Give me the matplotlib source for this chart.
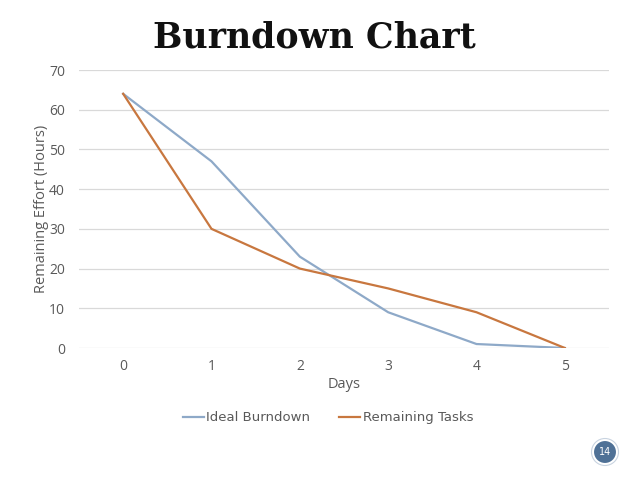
import matplotlib.pyplot as plt
from matplotlib.patches import Circle
from matplotlib.transforms import IdentityTransform

# Datos
dias = [0, 1, 2, 3, 4, 5]
ideal = [64, 47, 23, 9, 1, 0]
restante = [64, 30, 20, 15, 9, 0]
yticks = [0, 10, 20, 30, 40, 50, 60, 70]

gris = '#595959'
azul = '#8EA9C8'
naranja = '#C8773F'

fig = plt.figure(figsize=(6.38, 4.79), dpi=100)
ax = fig.add_axes([79 / 638, 1 - 348 / 479, 530 / 638, 278 / 479])

x = list(range(len(dias)))
ax.plot(x, ideal, color=azul, lw=1.6, label='Ideal Burndown')
ax.plot(x, restante, color=naranja, lw=1.6, label='Remaining Tasks')

ax.set_xlim(-0.5, len(dias) - 0.5)
ax.set_ylim(0, 70)
ax.set_xticks(x)
ax.set_xticklabels([str(d) for d in dias])
ax.set_yticks(yticks)
ax.grid(axis='y', color='#D9D9D9', lw=0.9)
ax.set_axisbelow(True)
for s in ax.spines.values():
    s.set_visible(False)
ax.tick_params(length=0, colors=gris, labelsize=10)
ax.tick_params(axis='x', pad=8)
ax.tick_params(axis='y', pad=10)
for lab in ax.get_xticklabels() + ax.get_yticklabels():
    lab.set_family('Open Sans')

ax.set_xlabel('Days', color=gris, fontsize=10.5, family='Open Sans', labelpad=2)
ax.set_ylabel('Remaining Effort (Hours)', color=gris, fontsize=10.5,
              family='Open Sans', labelpad=0)

leg = ax.legend(loc='upper center', bbox_to_anchor=(0.47, -0.185), ncol=2,
                frameon=False, handlelength=1.6, handletextpad=0.2,
                columnspacing=2.2, prop={'family': 'DejaVu Sans', 'size': 9.5})
for t in leg.get_texts():
    t.set_color(gris)

fig.text(314 / 638, 1 - 37 / 479, 'Burndown Chart', ha='center', va='center',
         fontsize=25, fontweight='bold', family='DejaVu Serif', color='#111111')

# Número de página
cx, cy = 605, 479 - 452
fig.patches.append(Circle((cx, cy), 12, transform=IdentityTransform(),
                          facecolor='#4F7196', edgecolor='white', lw=1.5))
fig.patches.append(Circle((cx, cy), 13.5, transform=IdentityTransform(),
                          facecolor='none', edgecolor='#C8D3E0', lw=0.8))
fig.text(cx / 638, cy / 479, '14', ha='center', va='center',
         fontsize=7, color='white')

fig.savefig('out.png', dpi=100)
